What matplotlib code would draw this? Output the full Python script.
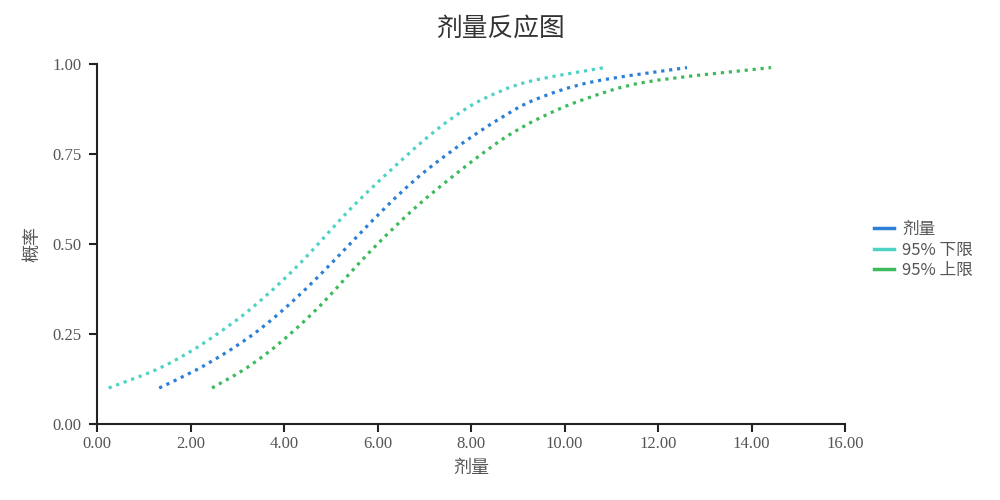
import matplotlib
matplotlib.use("Agg")
import numpy as np
import matplotlib.pyplot as plt
from matplotlib.path import Path
from matplotlib.patches import PathPatch
from matplotlib.ticker import FormatStrFormatter, MultipleLocator

plt.rcParams['font.family'] = ['Noto Sans CJK SC', 'DejaVu Sans']

# Data
prob = [0.10, 0.15, 0.20, 0.25, 0.30, 0.35, 0.40, 0.45, 0.50, 0.55,
        0.60, 0.65, 0.70, 0.75, 0.80, 0.85, 0.90, 0.95, 0.99]
dose = [1.33, 2.12, 2.78, 3.35, 3.83, 4.26, 4.66, 5.04, 5.41, 5.78,
        6.16, 6.56, 7.00, 7.50, 8.04, 8.64, 9.35, 10.58, 12.62]
lower95 = [0.25, 1.25, 1.98, 2.57, 3.10, 3.56, 3.98, 4.37, 4.73, 5.08,
           5.44, 5.83, 6.24, 6.66, 7.10, 7.60, 8.22, 9.20, 10.85]
upper95 = [2.46, 3.13, 3.67, 4.13, 4.55, 4.93, 5.28, 5.63, 6.00, 6.39,
           6.80, 7.25, 7.73, 8.23, 8.78, 9.47, 10.38, 11.75, 14.42]

series_names = ['剂量', '95% 下限', '95% 上限']
colors = ['#2b80d6', '#4fd2c6', '#3dba5c']


def smooth_path(xs, ys):
    """Catmull-Rom style smooth path (cubic Bezier) through the data points."""
    P = np.column_stack([xs, ys]).astype(float)
    verts = [P[0]]
    codes = [Path.MOVETO]
    n = len(P)
    for i in range(n - 1):
        p0 = P[i - 1] if i > 0 else P[i]
        p1 = P[i]
        p2 = P[i + 1]
        p3 = P[i + 2] if i + 2 < n else P[i + 1]
        c1 = p1 + (p2 - p0) / 6.0
        c2 = p2 - (p3 - p1) / 6.0
        verts += [c1, c2, p2]
        codes += [Path.CURVE4] * 3
    return Path(verts, codes)


fig = plt.figure(figsize=(10, 5), dpi=100)
ax = fig.add_axes([0.097, 0.152, 0.748, 0.72])

for xs, name, c in zip([dose, lower95, upper95], series_names, colors):
    patch = PathPatch(smooth_path(xs, prob), facecolor='none', edgecolor=c,
                      lw=2.3, linestyle=(0, (1, 1.5)))
    ax.add_patch(patch)

ax.set_xlim(0, 16)
ax.set_ylim(0, 1)
ax.xaxis.set_major_locator(MultipleLocator(2))
ax.yaxis.set_major_locator(MultipleLocator(0.25))
ax.xaxis.set_major_formatter(FormatStrFormatter('%.2f'))
ax.yaxis.set_major_formatter(FormatStrFormatter('%.2f'))

for s in ['top', 'right']:
    ax.spines[s].set_visible(False)
for s in ['left', 'bottom']:
    ax.spines[s].set_linewidth(1.5)
    ax.spines[s].set_color('#222222')

ax.tick_params(axis='both', direction='out', length=6, width=1.5, color='#222222',
               labelsize=12, labelcolor='#555555')
ax.tick_params(axis='x', pad=3)
ax.tick_params(axis='y', pad=5)
for lab in ax.get_xticklabels() + ax.get_yticklabels():
    lab.set_fontfamily(['Liberation Serif', 'DejaVu Serif'])

ax.set_xlabel('剂量', fontsize=13, color='#555555', labelpad=5)
ax.set_ylabel('概率', fontsize=13, color='#555555', labelpad=8)

fig.text(0.5, 0.942, '剂量反应图', ha='center', va='center', fontsize=18.5, color='#333333')

handles = [plt.Line2D([0], [0], color=c, lw=2.5) for c in colors]
leg = fig.legend(handles, series_names, loc='center left', bbox_to_anchor=(0.859, 0.50),
                 frameon=False, fontsize=12, handlelength=1.2, handletextpad=0.5,
                 labelspacing=0.2, labelcolor='#555555')

fig.savefig('out.png', dpi=100)
